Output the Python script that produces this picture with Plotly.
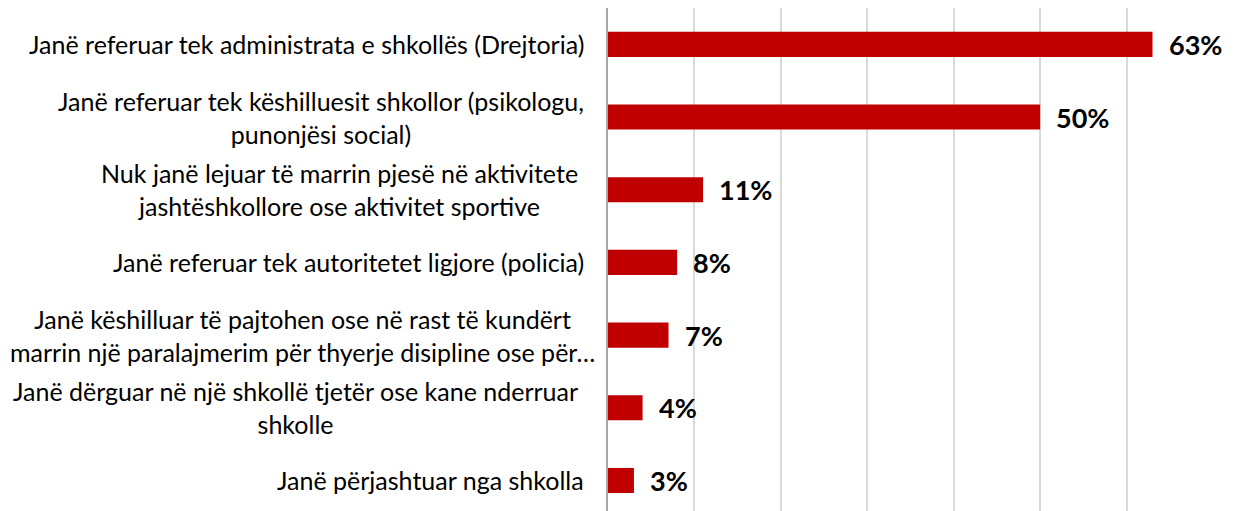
import plotly.graph_objects as go

# Survey responses: what happened to the students involved
categories = [
    "Janë referuar tek administrata e shkollës (Drejtoria)",
    "Janë referuar tek këshilluesit shkollor (psikologu,<br>punonjësi social)",
    "Nuk janë lejuar të marrin pjesë në aktivitete<br>jashtëshkollore ose aktivitet sportive",
    "Janë referuar tek autoritetet ligjore (policia)",
    "Janë këshilluar të pajtohen ose në rast të kundërt<br>marrin një paralajmerim për thyerje disipline ose për…",
    "Janë dërguar në një shkollë tjetër ose kane nderruar<br>shkolle",
    "Janë përjashtuar nga shkolla",
]
values = [63, 50, 11, 8, 7, 4, 3]
value_labels = [f"{v}%" for v in values]

BAR_COLOR = "#C00000"
FONT = "Lato"

# horizontal nudges (px) for the wrapped category text blocks
label_nudge = [0, 0, -6, 0, 11, -6, 0]

positions = list(range(len(categories)))

fig = go.Figure(
    go.Bar(
        x=values,
        y=positions,
        orientation="h",
        width=0.345,
        marker=dict(color=BAR_COLOR, line=dict(width=0)),
        hoverinfo="skip",
    )
)

annotations = []
# value labels to the right of each bar
for pos, v, lab in zip(positions, values, value_labels):
    annotations.append(dict(
        x=v, y=pos, xref="x", yref="y", text=f"<b>{lab}</b>",
        showarrow=False, xanchor="left", yanchor="middle", xshift=14,
        font=dict(family=FONT, size=27, color="#000000"),
    ))
# category labels, centred text blocks to the left of the axis
for pos, cat, nudge in zip(positions, categories, label_nudge):
    annotations.append(dict(
        x=0, y=pos, xref="paper", yref="y", text=cat,
        showarrow=False, xanchor="right", yanchor="middle", align="center",
        xshift=-22 + nudge,
        font=dict(family=FONT, size=25, color="#000000"),
    ))

fig.update_layout(
    width=1234, height=511,
    margin=dict(l=608, r=21, t=8, b=0),
    paper_bgcolor="white", plot_bgcolor="white",
    showlegend=False,
    annotations=annotations,
    xaxis=dict(
        range=[0, 70], dtick=10, showticklabels=False, ticks="",
        showgrid=True, gridcolor="#D9D9D9", gridwidth=1.5,
        zeroline=False, showline=False, fixedrange=True,
    ),
    yaxis=dict(
        range=[6.42, -0.5], showticklabels=False, ticks="",
        showgrid=False, zeroline=False,
        showline=True, linecolor="#A6A6A6", linewidth=2,
        fixedrange=True,
    ),
)

fig.write_html("out.html")
